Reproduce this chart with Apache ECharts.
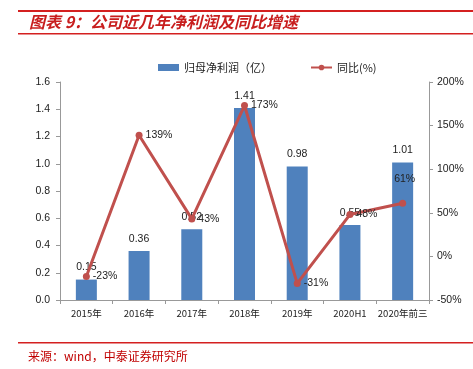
<!DOCTYPE html>
<html>
<head>
<meta charset="utf-8">
<script src="https://cdn.jsdelivr.net/npm/echarts@6/dist/echarts.min.js"></script>
<style>
  html, body { margin: 0; padding: 0; background: #fff; }
  #chart { width: 473px; height: 369px; }
</style>
</head>
<body>
<div id="chart"></div>
<script>
var categories = ['2015年', '2016年', '2017年', '2018年', '2019年', '2020H1', '2020年前三'];
var profit = [0.15, 0.36, 0.52, 1.41, 0.98, 0.55, 1.01];
var growth = [-23, 139, 43, 173, -31, 48, 61];

var chart = echarts.init(document.getElementById('chart'));

var lineData = growth.map(function(v, i) {
    var item = {value: v};
    if (i === growth.length - 1) {
        item.label = {position: 'top', offset: [2, -12]};
    }
    return item;
});

var option = {
    animation: false,
    textStyle: {fontFamily: 'Liberation Sans, Noto Sans CJK SC, sans-serif'},
    legend: {
        top: 57,
        left: 153,
        itemGap: 38,
        itemWidth: 21,
        itemHeight: 7,
        textStyle: {fontSize: 11, color: '#222', fontFamily: 'Noto Sans CJK SC'},
        data: [
            {name: '归母净利润（亿）', icon: 'rect'},
            {name: '同比(%)'}
        ]
    },
    grid: {left: 60, right: 44, top: 82, bottom: 69},
    xAxis: {
        type: 'category',
        data: categories,
        axisLine: {lineStyle: {color: '#999'}},
        axisTick: {show: true, alignWithLabel: false, lineStyle: {color: '#999'}, length: 4},
        axisLabel: {fontSize: 9.5, color: '#222', margin: 9, interval: 0, fontFamily: 'Noto Sans CJK SC'}
    },
    yAxis: [
        {
            type: 'value',
            min: 0,
            max: 1.6,
            interval: 0.2,
            axisLine: {show: true, lineStyle: {color: '#999'}},
            axisTick: {show: true, inside: false, length: 4, lineStyle: {color: '#999'}},
            splitLine: {show: false},
            axisLabel: {
                fontSize: 10.5, color: '#222', margin: 10,
                formatter: function(v) { return v.toFixed(1); }
            }
        },
        {
            type: 'value',
            min: -50,
            max: 200,
            interval: 50,
            position: 'right',
            axisLine: {show: true, lineStyle: {color: '#999'}},
            axisTick: {show: true, length: 4, lineStyle: {color: '#999'}},
            splitLine: {show: false},
            axisLabel: {
                fontSize: 10.5, color: '#222', margin: 8,
                formatter: function(v) { return v + '%'; }
            }
        }
    ],
    series: [
        {
            name: '归母净利润（亿）',
            type: 'bar',
            data: profit,
            barWidth: 21,
            itemStyle: {color: '#4F81BD'},
            label: {
                show: true,
                position: 'top',
                distance: 7,
                fontSize: 10.5,
                color: '#222',
                formatter: function(p) { return p.value.toFixed(2); }
            }
        },
        {
            name: '同比(%)',
            type: 'line',
            yAxisIndex: 1,
            data: lineData,
            symbol: 'circle',
            symbolSize: 7,
            lineStyle: {color: '#C0504D', width: 3},
            itemStyle: {color: '#C0504D'},
            label: {
                show: true,
                position: 'right',
                distance: 3,
                fontSize: 10.5,
                color: '#222',
                formatter: function(p) { return p.value + '%'; }
            }
        }
    ],
    graphic: [
        {type: 'rect', shape: {x: 18, y: 10, width: 455, height: 2}, style: {fill: '#D42020'}},
        {type: 'text', left: 29, top: 14, style: {
            text: '图表 9：公司近几年净利润及同比增速',
            fontSize: 16, fontWeight: 'bold', fontStyle: 'italic',
            fill: '#C81E1E', fontFamily: 'Noto Sans CJK SC'
        }},
        {type: 'rect', shape: {x: 18, y: 33, width: 455, height: 1.5}, style: {fill: '#D42020'}},
        {type: 'rect', shape: {x: 18, y: 342, width: 455, height: 1.5}, style: {fill: '#D42020'}},
        {type: 'text', left: 28, top: 350, style: {
            text: '来源：wind，中泰证券研究所',
            fontSize: 12, fill: '#C00000', fontFamily: 'Noto Sans CJK SC'
        }}
    ]
};

chart.setOption(option);
</script>
</body>
</html>
